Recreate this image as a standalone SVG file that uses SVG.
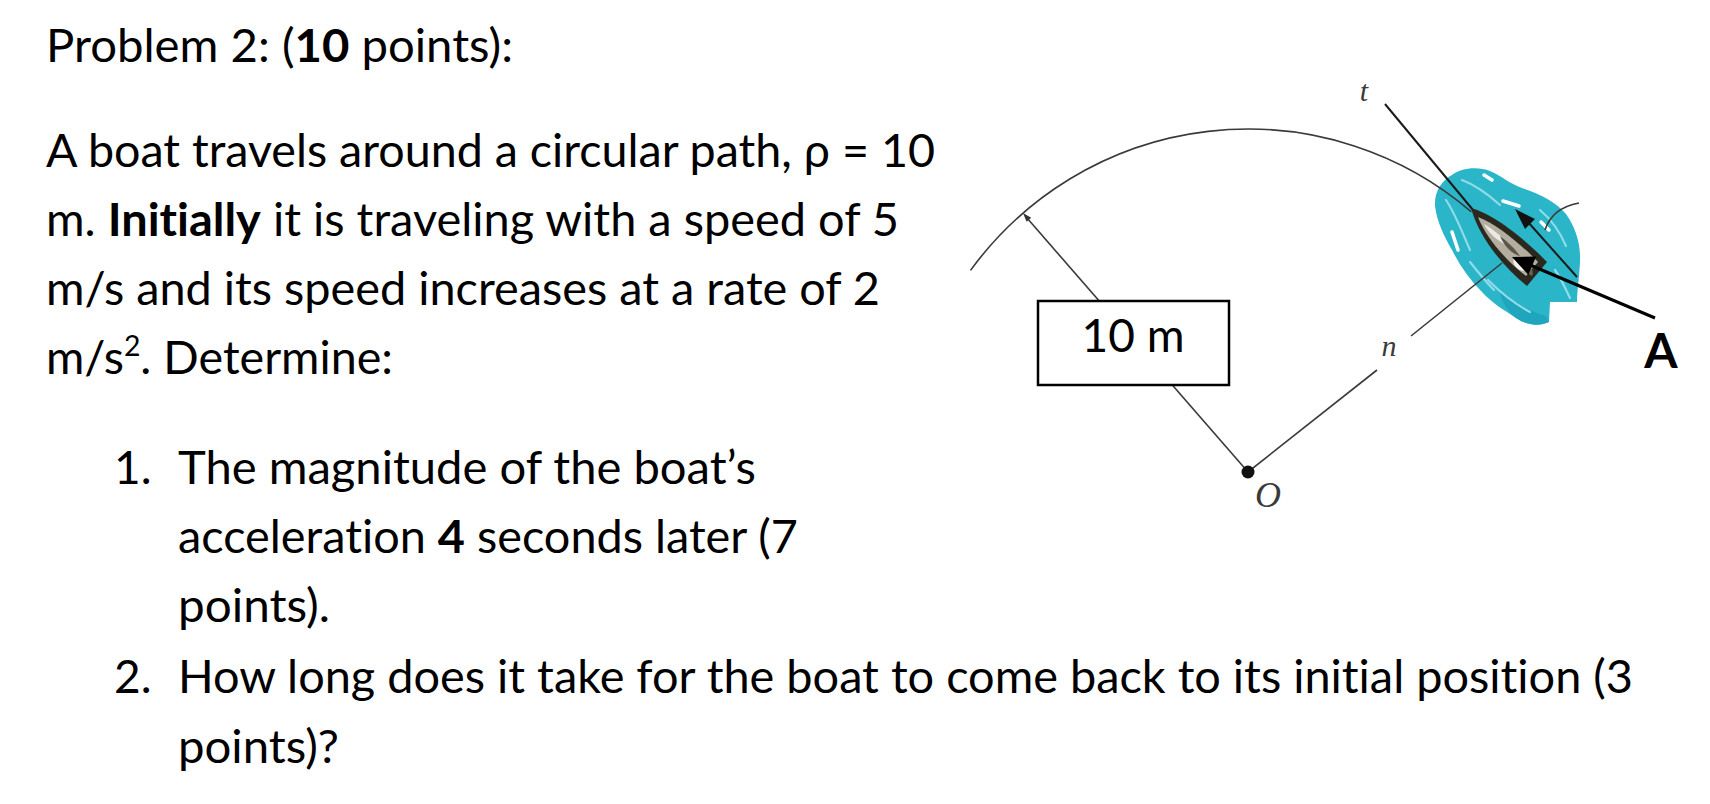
<svg xmlns="http://www.w3.org/2000/svg" width="1710" height="804" viewBox="0 0 1710 804">
<style>
.body{font-family:Lato,"Liberation Sans","DejaVu Sans",sans-serif;font-size:46px;fill:#000;font-variant-ligatures:none;font-feature-settings:"liga" 0,"clig" 0}
.b{font-weight:bold}
.it{font-family:"Liberation Serif","DejaVu Serif",serif;font-style:italic;fill:#3a3a3a}
.thin{stroke:#3a3a3a;stroke-width:1.6;fill:none}
.dark{stroke:#1a1a1a;stroke-width:2;fill:none}
.streak{stroke:#8fdbe8;stroke-width:2.2;fill:none;stroke-linecap:round}
.white{stroke:#ffffff;stroke-width:3.5;fill:none;stroke-linecap:round}
</style>
<rect width="1710" height="804" fill="#ffffff"/>

<g id="problem-text">
<text class="body" x="46" y="62" textLength="467" lengthAdjust="spacingAndGlyphs">Problem 2: (<tspan class="b">10</tspan> points):</text>
<text class="body" x="46" y="167" textLength="889" lengthAdjust="spacingAndGlyphs">A boat travels around a circular path, ρ = 10</text>
<text class="body" x="46" y="236" textLength="853" lengthAdjust="spacingAndGlyphs">m. <tspan class="b">Initially</tspan> it is traveling with a speed of 5</text>
<text class="body" x="46" y="305" textLength="834" lengthAdjust="spacingAndGlyphs">m/s and its speed increases at a rate of 2</text>
<text class="body" x="46" y="374" textLength="347" lengthAdjust="spacingAndGlyphs">m/s<tspan font-size="28" dy="-18">2</tspan><tspan dy="18">. Determine:</tspan></text>
<text class="body" x="114" y="484">1.</text>
<text class="body" x="178" y="484" textLength="578" lengthAdjust="spacingAndGlyphs">The magnitude of the boat’s</text>
<text class="body" x="178" y="553" textLength="620" lengthAdjust="spacingAndGlyphs">acceleration <tspan class="b">4</tspan> seconds later (7</text>
<text class="body" x="178" y="622" textLength="152" lengthAdjust="spacingAndGlyphs">points).</text>
<text class="body" x="114" y="693">2.</text>
<text class="body" x="178" y="693" textLength="1455" lengthAdjust="spacingAndGlyphs">How long does it take for the boat to come back to its initial position (3</text>
<text class="body" x="178" y="763" textLength="161" lengthAdjust="spacingAndGlyphs">points)?</text>
</g>

<g id="water">
<path fill="#2bb5c9" d="M1452,175 C1460,168 1478,166 1490,171 C1502,176 1510,184 1522,188 C1540,194 1556,202 1566,214 C1576,228 1581,245 1580,262 C1579,280 1577,292 1577,302 L1550,302 L1549,322 C1540,326 1528,326 1516,318 C1504,310 1492,303 1482,292 C1470,280 1460,266 1452,250 C1444,236 1437,222 1435,206 C1434,192 1442,180 1452,175 Z"/>
<path fill="#1fa6bc" d="M1500,290 C1512,300 1530,312 1546,316 L1549,322 C1540,326 1528,326 1516,318 C1508,312 1500,300 1500,290 Z"/>
<path class="streak" d="M1446,200 C1456,215 1462,232 1470,250"/>
<path class="streak" d="M1462,180 C1478,186 1490,196 1500,205"/>
<path class="streak" d="M1488,280 C1500,292 1515,304 1530,312"/>
<path class="streak" d="M1555,270 C1562,280 1566,290 1570,298"/>
<path class="streak" d="M1540,210 C1552,220 1560,232 1566,246"/>
<path class="streak" d="M1470,262 C1478,272 1486,282 1494,290"/>
<path class="white" d="M1452,232 L1458,250"/>
<path class="white" d="M1503,201 L1519,206"/>
<path class="white" d="M1541,222 L1549,230"/>
<path class="white" d="M1484,175 L1492,180"/>
</g>

<g id="connectors">
<path id="path-arc" class="thin" d="M970.5,270.4 A343,343 0 0,1 1471.4,211.8"/>
<line id="radius-line" class="thin" x1="1248" y1="472" x2="1027" y2="218"/>
<polygon fill="#333333" points="1023,213 1031.2,217.8 1026.6,221.8"/>
<line id="n-line-1" class="thin" x1="1248" y1="472" x2="1377" y2="370"/>
<line id="n-line-2" class="thin" x1="1411" y1="336" x2="1502" y2="263"/>
<line id="t-line" class="dark" x1="1385" y1="104" x2="1473" y2="210"/>
<path id="wake-curve" class="thin" d="M1545,230 Q1552,208 1579,203"/>
</g>

<g id="boat">
<path fill="#2b2820" d="M1471,208 C1495,214 1530,244 1547,262 L1527,286 C1505,268 1480,240 1471,208 Z"/>
<path fill="#b3ae9f" d="M1478,217 C1497,224 1524,247 1538,262 L1526,276 C1508,262 1487,240 1478,217 Z"/>
<path fill="#ece9e2" d="M1484,224 C1494,230 1504,238 1510,246 C1502,244 1490,236 1484,224 Z"/>
<path fill="#5b5648" d="M1500,236 C1508,242 1516,250 1520,256 C1512,254 1504,246 1500,236 Z"/>
<ellipse cx="1520" cy="264" rx="8" ry="5" fill="#f4f2ee" transform="rotate(45 1520 264)"/>
<path fill="#6a6455" d="M1527,264 C1532,268 1534,272 1532,276 C1528,274 1526,270 1527,264 Z"/>
</g>

<g id="velocity-arrow">
<line class="dark" x1="1577" y1="277" x2="1528" y2="222"/>
<polygon fill="#111111" points="1515,209 1535,219 1525,229"/>
</g>

<g id="box-10m">
<rect x="1038" y="301" width="191" height="84" fill="#ffffff" stroke="#000000" stroke-width="2.5"/>
<text class="body" x="1133" y="352" font-size="30" text-anchor="middle">10 m</text>
</g>

<g id="point-O">
<circle cx="1248" cy="472" r="6.5" fill="#111111"/>
<text class="it" x="1268" y="507" font-size="36" text-anchor="middle">O</text>
</g>

<g id="label-t">
<text class="it" x="1364" y="101" font-size="30" text-anchor="middle">t</text>
</g>

<g id="label-n">
<text class="it" x="1389" y="356" font-size="30" text-anchor="middle">n</text>
</g>

<g id="label-A">
<line stroke="#000000" stroke-width="3" x1="1655" y1="318" x2="1530" y2="265"/>
<polygon fill="#000000" points="1512,257 1536.1,256.4 1528.3,274.8"/>
<text x="1661" y="368" font-family="Lato,'Liberation Sans',sans-serif" font-weight="bold" font-size="48" text-anchor="middle">A</text>
</g>
</svg>
